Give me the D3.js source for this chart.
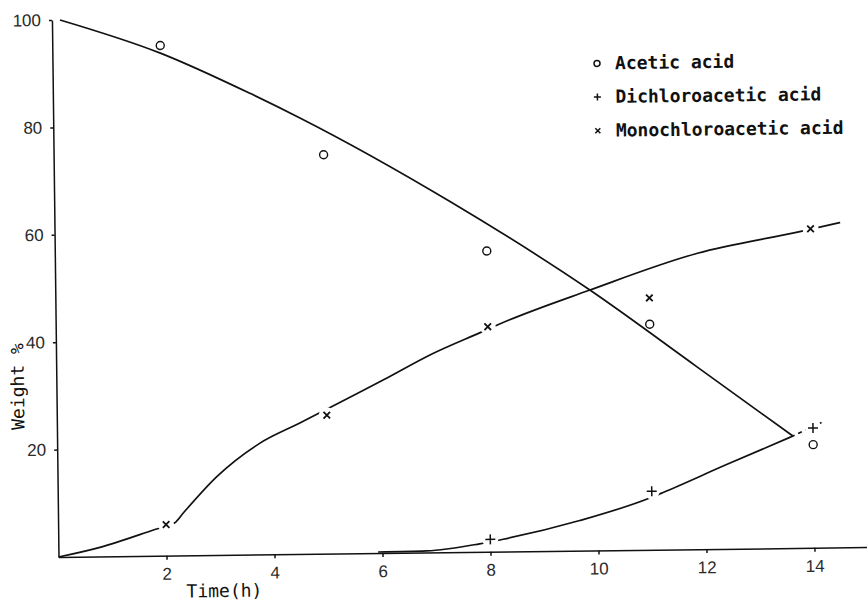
<!DOCTYPE html>
<html>
<head>
<meta charset="utf-8">
<script src="https://d3js.org/d3.v7.min.js"></script>
<style>
body { margin:0; background:#fff; }
.axis path, .axis line { stroke:#111; stroke-width:1.5px; }
.axis text { font-family:"Liberation Sans", Arial, sans-serif; font-size:17px; fill:#2a2a2a; }
.mono { font-family:"DejaVu Sans Mono", monospace; font-size:18px; fill:#111; }
.fit { fill:none; stroke:#111; stroke-width:1.7px; }
</style>
</head>
<body>
<div id="graph"></div>
<script>
// measured points, time in hours
var hours = [2, 5, 8, 11, 14];
var acetic = [95, 74.3, 56, 42, 19.2];
var monochloro = [5.8, 25.8, 41.9, 46.9, 59.4];
var dichloroHours = [8, 11, 14];
var dichloro = [2.3, 10.9, 22.3];

// hand drawn curves
var aceticFitT = [0.15, 2, 3.65, 4.57, 7.33, 9.9, 11.86, 13.62];
var aceticFit  = [100, 93.6, 85.9, 81.2, 65.3, 48.5, 34, 20.9];
var monoFitT = [0, 0.77, 1.79, 2.16, 2.32, 2.95, 3.75, 4.5, 6.05, 6.97, 7.9, 8.2, 9.9, 11.9, 13.8, 14.55];
var monoFit  = [0, 1.7, 4.9, 6.1, 7.9, 14.6, 20.7, 24.4, 32.2, 37.0, 41.0, 42.3, 48.5, 55.1, 58.9, 60.5];
var diFitT = [5.92, 6.82, 7.8, 8.24, 9.66, 10.95, 11.2, 12.37, 13.59];
var diFit  = [0.2, 0.3, 1.5, 2.3, 5.6, 9.6, 10.6, 15.6, 20.7];
var diDashT = [13.59, 14.16];
var diDash  = [20.7, 23.3];

var xTicks = [2, 4, 6, 8, 10, 12, 14];
var yTicks = [20, 40, 60, 80, 100];
var legendNames = ["Acetic acid", "Dichloroacetic acid", "Monochloroacetic acid"];
var legendKinds = ["circle", "plus", "times"];

var width = 867, height = 608;
var x = d3.scaleLinear().domain([0, 15.6]).range([58.5, 58.5 + 15.6 * 54]);
var y = d3.scaleLinear().domain([0, 100]).range([557, 20]);

var svg = d3.select("#graph").append("svg")
    .attr("width", width)
    .attr("height", height);

// the scanned page is slightly tilted
var g = svg.append("g")
    .attr("transform", "rotate(-0.7," + x(0) + "," + y(0) + ")");

g.append("g")
    .attr("class", "axis")
    .attr("transform", "translate(0," + y(0) + ")")
    .call(d3.axisBottom(x).tickValues(xTicks).tickSize(4).tickSizeOuter(0).tickPadding(8));

g.append("g")
    .attr("class", "axis")
    .attr("transform", "translate(" + x(0) + ",0)")
    .call(d3.axisLeft(y).tickValues(yTicks).tickSize(3).tickSizeOuter(0).tickPadding(8));

g.append("text")
    .attr("class", "mono")
    .attr("x", 224)
    .attr("y", 599)
    .attr("text-anchor", "middle")
    .text("Time(h)");

g.append("text")
    .attr("class", "mono")
    .attr("transform", "translate(26,386) rotate(-90)")
    .attr("text-anchor", "middle")
    .text("Weight %");

function pairs(ts, vs) {
  return ts.map(function(t, i) { return [t, vs[i]]; });
}

var line = d3.line()
    .x(function(d) { return x(d[0]); })
    .y(function(d) { return y(d[1]); })
    .curve(d3.curveMonotoneX);

g.append("path").attr("class", "fit").attr("d", line(pairs(aceticFitT, aceticFit)));
g.append("path").attr("class", "fit").attr("d", line(pairs(monoFitT, monoFit)));
g.append("path").attr("class", "fit").attr("d", line(pairs(diFitT, diFit)));
g.append("path").attr("class", "fit")
    .style("stroke-dasharray", "4,4")
    .attr("d", line(pairs(diDashT, diDash)));

// marker shapes
function shape(kind, s) {
  if (kind == "circle") return d3.symbol().type(d3.symbolCircle).size(Math.PI * s * s)();
  if (kind == "plus") return "M" + (-s) + ",0H" + s + "M0," + (-s) + "V" + s;
  return "M" + (-s) + "," + (-s) + "L" + s + "," + s + "M" + (-s) + "," + s + "L" + s + "," + (-s);
}

var monoPts = pairs(hours, monochloro);
var diPts = pairs(dichloroHours, dichloro);

// white gaps where the curve is broken around a marker
g.selectAll(".gap")
    .data(monoPts.concat(diPts))
    .enter().append("circle")
    .attr("class", "gap")
    .attr("cx", function(d) { return x(d[0]); })
    .attr("cy", function(d) { return y(d[1]); })
    .attr("r", 8)
    .style("fill", "#fff");

g.selectAll(".ac")
    .data(pairs(hours, acetic))
    .enter().append("path")
    .attr("class", "ac")
    .attr("transform", function(d) { return "translate(" + x(d[0]) + "," + y(d[1]) + ")"; })
    .attr("d", shape("circle", 4))
    .style("fill", "none").style("stroke", "#111").style("stroke-width", 1.4);

g.selectAll(".mc")
    .data(monoPts)
    .enter().append("path")
    .attr("class", "mc")
    .attr("transform", function(d) { return "translate(" + x(d[0]) + "," + y(d[1]) + ")"; })
    .attr("d", shape("times", 3.3))
    .style("stroke", "#111").style("stroke-width", 1.8);

g.selectAll(".dc")
    .data(diPts)
    .enter().append("path")
    .attr("class", "dc")
    .attr("transform", function(d) { return "translate(" + x(d[0]) + "," + y(d[1]) + ")"; })
    .attr("d", shape("plus", 5))
    .style("stroke", "#111").style("stroke-width", 1.5);

// legend
var legend = g.selectAll(".legend")
    .data(legendNames)
    .enter().append("g")
    .attr("class", "legend")
    .attr("transform", function(d, i) { return "translate(603," + (70 + i * 33.7) + ")"; });

legend.append("path")
    .attr("d", function(d, i) { return shape(legendKinds[i], legendKinds[i] == "circle" ? 3 : (legendKinds[i] == "plus" ? 3.5 : 2.5)); })
    .style("fill", "none").style("stroke", "#111").style("stroke-width", 1.5);

legend.append("text")
    .attr("class", "mono")
    .attr("x", 18)
    .attr("y", 6)
    .style("font-weight", "bold")
    .text(function(d) { return d; });
</script>
</body>
</html>
